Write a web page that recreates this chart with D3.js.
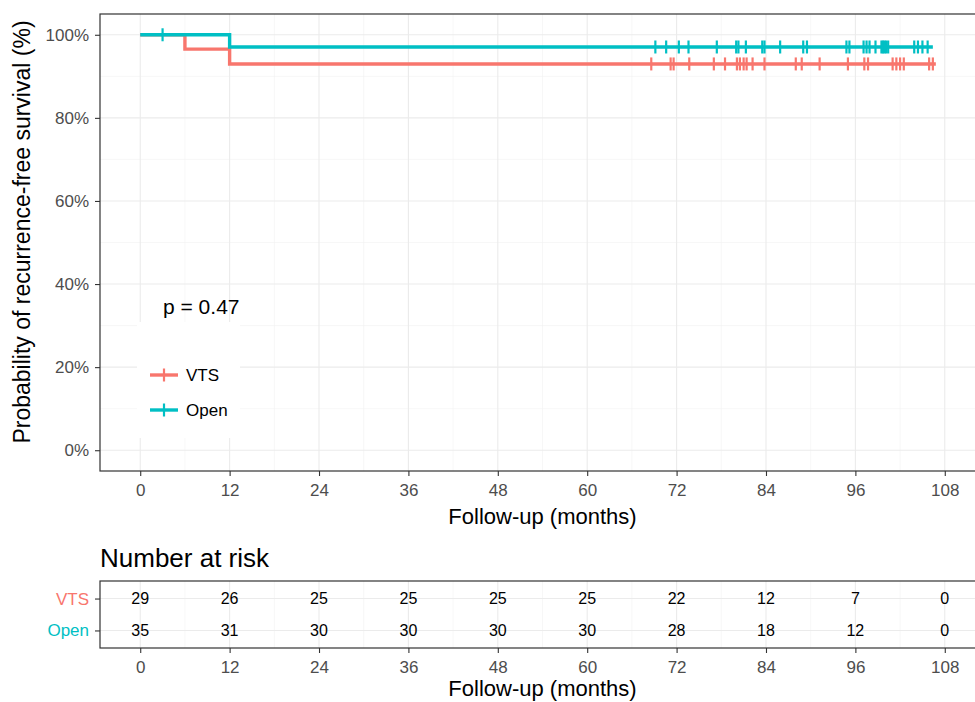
<!DOCTYPE html>
<html>
<head>
<meta charset="utf-8">
<script src="https://cdn.jsdelivr.net/npm/d3@7"></script>
<style>
  body { margin: 0; background: #fff; }
  svg { display: block; font-family: "Liberation Sans", Arial, sans-serif; }
  .grid-major { stroke: #ebebeb; stroke-width: 1.1; }
  .grid-minor { stroke: #f2f2f2; stroke-width: 0.6; }
  .axis path { display: none; }
  .axis line { stroke: #333; stroke-width: 1.1; }
  .axis text { fill: #4d4d4d; font-size: 17px; }
</style>
</head>
<body>
<svg width="975" height="702"></svg>
<script>
// ---- data ----
const monthTicks = [0, 12, 24, 36, 48, 60, 72, 84, 96, 108];
const survTicks = [0, 0.2, 0.4, 0.6, 0.8, 1];
const groups = ["VTS", "Open"];
const groupColors = ["#F8766D", "#00BFC4"];

const vtsStepTime = [0, 6, 12, 106.8];
const vtsStepSurv = [1, 0.9655, 0.9298, 0.9298];
const openStepTime = [0, 12, 106.4];
const openStepSurv = [1, 0.9706, 0.9706];

const vtsCensor = [68.6, 71.2, 71.6, 73.7, 77.0, 78.5, 80.1, 80.5, 81.0, 81.4, 82.2, 83.8,
  88.0, 88.8, 91.2, 95.0, 97.2, 97.7, 101.0, 101.5, 102.0, 102.5, 105.9, 106.4];
const openCensor = [3, 69.15, 70.6, 72.3, 73.6, 77.4, 80.0, 80.3, 81.3, 83.5, 83.8, 85.9,
  89.0, 89.5, 94.8, 95.2, 97.1, 97.5, 97.9, 98.7, 99.5, 99.7, 99.9, 100.1, 100.4,
  103.9, 104.4, 105.0, 105.7];

const vtsAtRisk = [29, 26, 25, 25, 25, 25, 22, 12, 7, 0];
const openAtRisk = [35, 31, 30, 30, 30, 30, 28, 18, 12, 0];
const pValueLabel = "p = 0.47";

// ---- layout ----
const svg = d3.select("svg");
const left = 100, right = 985;
const mainTop = 14, mainBottom = 471;
const riskTop = 581, riskBottom = 648;

const x = d3.scaleLinear().domain([-5.4, 113.4]).range([left, right]);
const y = d3.scaleLinear().domain([-0.05, 1.05]).range([mainBottom, mainTop]);
const yRisk = d3.scalePoint().domain(groups).range([riskTop, riskBottom]).padding(0.55);

const minorMonths = monthTicks.map(d => d + 6).filter(d => d < 113);
const minorSurv = [0.1, 0.3, 0.5, 0.7, 0.9];

// ---- main panel grid ----
const gMain = svg.append("g");
gMain.selectAll(".vminor").data(minorMonths).enter().append("line")
  .attr("class", "grid-minor")
  .attr("x1", d => x(d)).attr("x2", d => x(d))
  .attr("y1", mainTop).attr("y2", mainBottom);
gMain.selectAll(".hminor").data(minorSurv).enter().append("line")
  .attr("class", "grid-minor")
  .attr("x1", left).attr("x2", right)
  .attr("y1", d => y(d)).attr("y2", d => y(d));
gMain.selectAll(".vmajor").data(monthTicks).enter().append("line")
  .attr("class", "grid-major")
  .attr("x1", d => x(d)).attr("x2", d => x(d))
  .attr("y1", mainTop).attr("y2", mainBottom);
gMain.selectAll(".hmajor").data(survTicks).enter().append("line")
  .attr("class", "grid-major")
  .attr("x1", left).attr("x2", right)
  .attr("y1", d => y(d)).attr("y2", d => y(d));

// ---- curves ----
const curves = [
  { name: "VTS", t: vtsStepTime, s: vtsStepSurv, censor: vtsCensor, color: groupColors[0] },
  { name: "Open", t: openStepTime, s: openStepSurv, censor: openCensor, color: groupColors[1] }
];

function survAt(c, time) {
  let v = c.s[0];
  c.t.forEach((tt, i) => { if (tt <= time) v = c.s[i]; });
  return v;
}

const stepLine = d3.line()
  .x(d => x(d[0]))
  .y(d => y(d[1]))
  .curve(d3.curveStepAfter);

curves.forEach(c => {
  const pts = c.t.map((tt, i) => [tt, c.s[i]]);
  gMain.append("path")
    .attr("d", stepLine(pts))
    .attr("fill", "none")
    .attr("stroke", c.color)
    .attr("stroke-width", 3.4);
  gMain.selectAll(null).data(c.censor).enter().append("line")
    .attr("x1", d => x(d)).attr("x2", d => x(d))
    .attr("y1", d => y(survAt(c, d)) - 6.5)
    .attr("y2", d => y(survAt(c, d)) + 6.5)
    .attr("stroke", c.color)
    .attr("stroke-width", 2.2);
});

// p-value label and legend
svg.append("rect")
  .attr("x", 137).attr("y", 322).attr("width", 103).attr("height", 116)
  .attr("fill", "#fff");
svg.append("text")
  .attr("x", 163).attr("y", 314)
  .attr("font-size", 21)
  .attr("fill", "#000")
  .text(pValueLabel);

const legend = svg.append("g").attr("transform", "translate(150,0)");
groups.forEach((g, i) => {
  const cy = 375 + i * 35;
  legend.append("line")
    .attr("x1", 0).attr("x2", 28).attr("y1", cy).attr("y2", cy)
    .attr("stroke", groupColors[i]).attr("stroke-width", 3.4);
  legend.append("line")
    .attr("x1", 14).attr("x2", 14).attr("y1", cy - 6.5).attr("y2", cy + 6.5)
    .attr("stroke", groupColors[i]).attr("stroke-width", 2.2);
  legend.append("text")
    .attr("x", 36).attr("y", cy).attr("dy", "0.36em")
    .attr("font-size", 17).attr("fill", "#000")
    .text(g);
});

// panel border
svg.append("rect")
  .attr("x", left).attr("y", mainTop)
  .attr("width", right - left).attr("height", mainBottom - mainTop)
  .attr("fill", "none").attr("stroke", "#333").attr("stroke-width", 1.2);

// axes
const xAxis = svg.append("g").attr("class", "axis")
  .attr("transform", `translate(0,${mainBottom})`)
  .call(d3.axisBottom(x).tickValues(monthTicks).tickSize(5).tickPadding(6));
xAxis.selectAll("text").attr("dy", "0.82em");

const yAxis = svg.append("g").attr("class", "axis")
  .attr("transform", `translate(${left},0)`)
  .call(d3.axisLeft(y).tickValues(survTicks).tickSize(5).tickPadding(6)
    .tickFormat(d => Math.round(d * 100) + "%"));

svg.append("text")
  .attr("x", x(54)).attr("y", 524)
  .attr("text-anchor", "middle")
  .attr("font-size", 22).attr("fill", "#000")
  .text("Follow-up (months)");

svg.append("text")
  .attr("transform", `translate(30,232) rotate(-90)`)
  .attr("text-anchor", "middle")
  .attr("font-size", 23).attr("fill", "#000")
  .text("Probability of recurrence-free survival (%)");

// ---- risk table ----
svg.append("text")
  .attr("x", left).attr("y", 567)
  .attr("font-size", 26).attr("fill", "#000")
  .text("Number at risk");

const gRisk = svg.append("g");
gRisk.selectAll(".vminor").data(minorMonths).enter().append("line")
  .attr("class", "grid-minor")
  .attr("x1", d => x(d)).attr("x2", d => x(d))
  .attr("y1", riskTop).attr("y2", riskBottom);
gRisk.selectAll(".vmajor").data(monthTicks).enter().append("line")
  .attr("class", "grid-major")
  .attr("x1", d => x(d)).attr("x2", d => x(d))
  .attr("y1", riskTop).attr("y2", riskBottom);
gRisk.selectAll(".hmajor").data(groups).enter().append("line")
  .attr("class", "grid-major")
  .attr("x1", left).attr("x2", right)
  .attr("y1", d => yRisk(d)).attr("y2", d => yRisk(d));

[vtsAtRisk, openAtRisk].forEach((row, i) => {
  gRisk.selectAll(null).data(row).enter().append("text")
    .attr("x", (d, j) => x(monthTicks[j]))
    .attr("y", yRisk(groups[i]))
    .attr("dy", "0.36em")
    .attr("text-anchor", "middle")
    .attr("font-size", 16).attr("fill", "#000")
    .text(d => d);
});

svg.append("rect")
  .attr("x", left).attr("y", riskTop)
  .attr("width", right - left).attr("height", riskBottom - riskTop)
  .attr("fill", "none").attr("stroke", "#333").attr("stroke-width", 1.2);

const riskX = svg.append("g").attr("class", "axis")
  .attr("transform", `translate(0,${riskBottom})`)
  .call(d3.axisBottom(x).tickValues(monthTicks).tickSize(5).tickPadding(6));
riskX.selectAll("text").attr("dy", "0.82em");

const riskY = svg.append("g").attr("class", "axis")
  .attr("transform", `translate(${left},0)`)
  .call(d3.axisLeft(yRisk).tickSize(5).tickPadding(6));
riskY.selectAll("text").style("fill", (d, i) => groupColors[i]);

svg.append("text")
  .attr("x", x(54)).attr("y", 696)
  .attr("text-anchor", "middle")
  .attr("font-size", 22).attr("fill", "#000")
  .text("Follow-up (months)");
</script>
</body>
</html>
